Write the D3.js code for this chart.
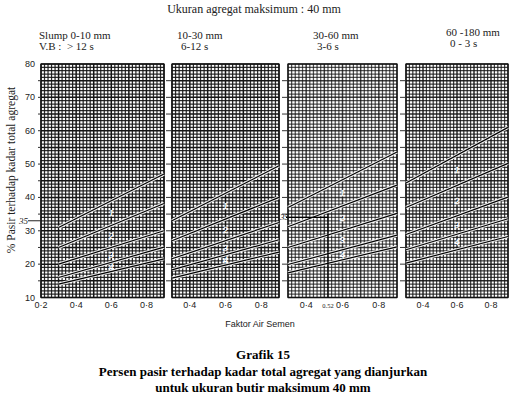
<!DOCTYPE html>
<html lang="id">
<head>
    <meta charset="UTF-8">
    <title>Grafik 15</title>
    <style>
        body { margin: 0; background: #fff; }
        svg { display: block; }
        .serif { font-family: "Liberation Serif", "Times New Roman", serif; }
        .sans { font-family: "Liberation Sans", Arial, sans-serif; }
    </style>
</head>
<body>
<div id="chart"></div>

<script src="https://cdn.jsdelivr.net/npm/d3@7/dist/d3.min.js"></script>
<script>
// ---- data ----
const slumpLabels = ["Slump 0-10 mm", "10-30 mm", "30-60 mm", "60 -180 mm"];
const vbLabels = ["V.B :  > 12 s", "6-12 s", "3-6 s", "0 - 3 s"];
const lineX = [0.3, 0.9];              // faktor air semen at start / end of each line
// % pasir at x = 0.3 and x = 0.9, five boundary lines per panel (top to bottom)
const sandSlump1 = [[31, 47], [25, 38.2], [20, 30], [16, 25.1], [14, 21.6]];
const sandSlump2 = [[33, 49.5], [27, 40], [21.6, 32.5], [18.3, 27.3], [15.8, 23.6]];
const sandSlump3 = [[37, 53.6], [31.2, 43.7], [25, 35.2], [19.9, 28.7], [17.4, 25.2]];
const sandSlump4 = [[44.3, 61], [37, 50.2], [28.9, 40.1], [24.3, 33.6], [20.3, 28.3]];
const zoneLabels = ["1", "2", "3", "4"];
const yTicks = [10, 20, 30, 40, 50, 60, 70, 80];
const xTicksP1 = [0.2, 0.4, 0.6, 0.8];
const xTicksRest = [0.4, 0.6, 0.8];

const panels = [
    { lines: sandSlump1, domain: [0.2, 0.9], range: [41, 164], ticks: xTicksP1, shade: 1 },
    { lines: sandSlump2, domain: [0.3, 0.9], range: [172, 279], ticks: xTicksRest, shade: 1 },
    { lines: sandSlump3, domain: [0.3, 0.9], range: [288, 397], ticks: xTicksRest, shade: 0.82 },
    { lines: sandSlump4, domain: [0.3, 0.9], range: [406, 508], ticks: xTicksRest, shade: 0.9 }
];

const width = 520, height = 397;

const svg = d3.select("#chart").append("svg")
    .attr("width", width)
    .attr("height", height);

const y = d3.scaleLinear().domain([10, 80]).range([297.5, 64]);

// headers
svg.append("text").attr("class", "serif")
    .attr("x", 254).attr("y", 13)
    .attr("text-anchor", "middle").attr("font-size", 12).attr("fill", "#222")
    .text("Ukuran agregat maksimum : 40 mm");

const headX = [39, 177, 313, 446];
slumpLabels.forEach((t, i) => {
    const dy = i === 3 ? -3 : 0;
    svg.append("text").attr("class", "serif")
        .attr("x", headX[i]).attr("y", 39 + dy)
        .attr("font-size", 11).attr("fill", "#222").text(t);
    svg.append("text").attr("class", "serif")
        .attr("x", headX[i] + (i === 0 ? 0 : 4)).attr("y", 50 + dy)
        .attr("font-size", 11).attr("fill", "#222")
        .attr("xml:space", "preserve").text(vbLabels[i]);
});

panels.forEach((p, pi) => {
    const x = d3.scaleLinear().domain(p.domain).range(p.range);
    const g = svg.append("g");

    // dense graph-paper grid (1 % by 0.02)
    const xMinor = d3.range(Math.round(p.domain[0] * 50), Math.round(p.domain[1] * 50) + 1).map(v => v / 50);
    const yMinor = d3.range(10, 81);
    g.selectAll(".vx").data(xMinor).enter().append("line")
        .attr("x1", d => x(d)).attr("x2", d => x(d))
        .attr("y1", y(80)).attr("y2", y(10))
        .attr("stroke", "#151515")
        .attr("stroke-width", d => Math.round(d * 50) % 5 === 0 ? 1.5 : 1.25)
        .attr("stroke-opacity", d => (Math.round(d * 50) % 5 === 0 ? 1 : 0.9) * p.shade);
    g.selectAll(".hy").data(yMinor).enter().append("line")
        .attr("x1", p.range[0]).attr("x2", p.range[1])
        .attr("y1", d => y(d)).attr("y2", d => y(d))
        .attr("stroke", "#151515")
        .attr("stroke-width", d => d % 5 === 0 ? 1.5 : 1.25)
        .attr("stroke-opacity", d => (d % 5 === 0 ? 1 : 0.9) * p.shade);

    // frame
    g.append("rect")
        .attr("x", p.range[0]).attr("y", y(80))
        .attr("width", p.range[1] - p.range[0]).attr("height", y(10) - y(80))
        .attr("fill", "none").attr("stroke", "#111").attr("stroke-width", 1.2);

    // small ticks every 5 %
    const tickLen = pi === 0 ? 3 : 6;
    g.selectAll(".tk").data(d3.range(15, 80, 5)).enter().append("line")
        .attr("x1", p.range[0] - tickLen).attr("x2", p.range[0])
        .attr("y1", d => y(d)).attr("y2", d => y(d))
        .attr("stroke", "#333").attr("stroke-width", 1);

    // boundary lines, with a light halo like the scan
    g.selectAll(".halo").data(p.lines).enter().append("line")
        .attr("x1", x(lineX[0])).attr("x2", x(lineX[1]))
        .attr("y1", d => y(d[0])).attr("y2", d => y(d[1]))
        .attr("stroke", "#fff").attr("stroke-opacity", 0.85).attr("stroke-width", 3.2);
    g.selectAll(".bl").data(p.lines).enter().append("line")
        .attr("x1", x(lineX[0])).attr("x2", x(lineX[1]))
        .attr("y1", d => y(d[0])).attr("y2", d => y(d[1]))
        .attr("stroke", "#000").attr("stroke-width", 1.2);

    // zone numbers between lines at x = 0.6
    zoneLabels.forEach((z, i) => {
        const mid = v => v[0] + (v[1] - v[0]) * (0.6 - lineX[0]) / (lineX[1] - lineX[0]);
        g.append("text").attr("class", "serif")
            .attr("x", x(0.6)).attr("y", y((mid(p.lines[i]) + mid(p.lines[i + 1])) / 2) + 3)
            .attr("text-anchor", "middle").attr("font-size", 9).attr("font-style", "italic")
            .attr("fill", "#fff").attr("stroke", "#fff").attr("stroke-width", 0.4)
            .text(z);
    });

    // x tick labels
    g.selectAll(".xl").data(p.ticks).enter().append("text")
        .attr("class", "sans")
        .attr("x", d => x(d)).attr("y", 308)
        .attr("text-anchor", "middle").attr("font-size", 9).attr("fill", "#222")
        .text(d => d3.format(".1f")(d).replace(".", "·"));

    if (pi === 2) {
        // worked example: w/c 0.52 -> 35 %
        g.append("line")
            .attr("x1", x(0.52)).attr("x2", x(0.52))
            .attr("y1", y(10)).attr("y2", y(35))
            .attr("stroke", "#000").attr("stroke-width", 1.3);
        g.append("line")
            .attr("x1", p.range[0] - 2).attr("x2", x(0.52))
            .attr("y1", y(34)).attr("y2", y(34))
            .attr("stroke", "#000").attr("stroke-width", 1.3);
        g.append("text").attr("class", "serif")
            .attr("x", x(0.52)).attr("y", 308)
            .attr("text-anchor", "middle").attr("font-size", 6.5).attr("fill", "#222")
            .text("0.52");
        g.append("text").attr("class", "serif")
            .attr("x", p.range[0] + 1).attr("y", y(34) + 3)
            .attr("text-anchor", "end").attr("font-size", 9).attr("font-style", "italic")
            .attr("fill", "#222").text("35");
    }
});

// y tick labels
svg.selectAll(".yl").data(yTicks).enter().append("text")
    .attr("class", "sans")
    .attr("x", 35).attr("y", d => y(d) + 3)
    .attr("text-anchor", "end").attr("font-size", 9).attr("fill", "#222")
    .text(d => d);

// hand mark at 35 on the first panel
svg.append("text").attr("class", "serif")
    .attr("x", 28).attr("y", y(33) + 3)
    .attr("text-anchor", "end").attr("font-size", 9).attr("font-style", "italic")
    .attr("fill", "#222").text("35");
svg.append("line")
    .attr("x1", 28).attr("x2", 41)
    .attr("y1", y(33)).attr("y2", y(33))
    .attr("stroke", "#222").attr("stroke-width", 1);

// axis titles
svg.append("text").attr("class", "serif")
    .attr("transform", "translate(15,170) rotate(-90)")
    .attr("text-anchor", "middle").attr("font-size", 11.5).attr("fill", "#222")
    .text("% Pasir terhadap kadar total agregat");

svg.append("text").attr("class", "sans")
    .attr("x", 260).attr("y", 327)
    .attr("text-anchor", "middle").attr("font-size", 9).attr("fill", "#222")
    .text("Faktor Air Semen");

// caption
const caption = ["Grafik 15",
    "Persen pasir terhadap kadar total agregat yang dianjurkan",
    "untuk ukuran butir maksimum 40 mm"];
const capY = [359, 375.5, 392];
caption.forEach((t, i) => {
    svg.append("text").attr("class", "serif")
        .attr("x", 263).attr("y", capY[i])
        .attr("text-anchor", "middle").attr("font-size", 13).attr("font-weight", "bold")
        .attr("fill", "#000").text(t);
});
</script>
</body>
</html>
